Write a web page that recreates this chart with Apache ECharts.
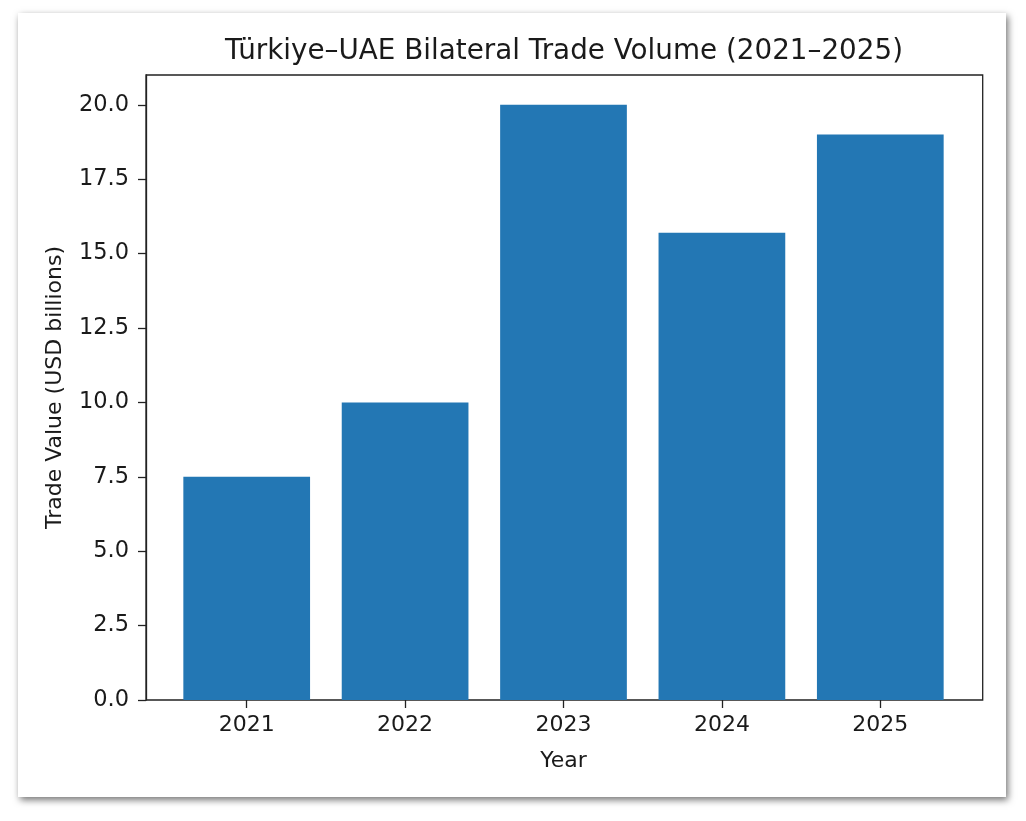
<!DOCTYPE html>
<html>
<head>
<meta charset="utf-8">
<script src="https://cdn.jsdelivr.net/npm/echarts@6/dist/echarts.min.js"></script>
<style>
html,body{margin:0;padding:0;background:#fff;}
#chart{width:1026px;height:821px;}
</style>
</head>
<body>
<div id="chart"></div>
<script>
const titleText = 'Türkiye–UAE Bilateral Trade Volume (2021–2025)';
const years = ['2021', '2022', '2023', '2024', '2025'];
const tradeValues = [7.5, 10.0, 20.0, 15.7, 19.0];
const yTicks = [0, 2.5, 5, 7.5, 10, 12.5, 15, 17.5, 20];
const xAxisName = 'Year';
const yAxisName = 'Trade Value (USD billions)';

const FONT = 'DejaVu Sans';
const TXT = '#1a1a1a';
const chart = echarts.init(document.getElementById('chart'), null, {renderer: 'canvas'});

const plotLeft = 146, plotRight = 982.7, plotTop = 75, plotBottom = 700;
const band = 158.4;
const innerLeft = 246.7 - band / 2;

chart.setOption({
  animation: false,
  backgroundColor: '#ffffff',
  graphic: [{
    type: 'rect', z: -10, silent: true,
    shape: {x: 18, y: 13, width: 988, height: 784},
    style: {fill: '#ffffff', shadowBlur: 7, shadowColor: 'rgba(0,0,0,0.55)', shadowOffsetX: 2, shadowOffsetY: 3}
  }],
  title: {
    text: titleText,
    left: 559,
    top: 33,
    textAlign: 'center',
    textStyle: {fontFamily: FONT, fontSize: 27.8, fontWeight: 'normal', color: TXT}
  },
  grid: [
    {left: plotLeft, top: plotTop, width: plotRight - plotLeft, height: plotBottom - plotTop,
     show: true, borderColor: '#222', borderWidth: 1.3, backgroundColor: 'transparent', containLabel: false},
    {left: innerLeft, top: plotTop, width: band * 5, height: plotBottom - plotTop, containLabel: false}
  ],
  xAxis: [
    {type: 'value', gridIndex: 0, min: 0, max: 1, show: false},
    {type: 'category', gridIndex: 1, data: years,
     axisLine: {show: false},
     axisTick: {show: true, alignWithLabel: true, length: 8, lineStyle: {color: '#222', width: 1.3}},
     axisLabel: {margin: 14, fontFamily: FONT, fontSize: 22, color: TXT},
     splitLine: {show: false},
     name: xAxisName, nameLocation: 'middle', nameGap: 50,
     nameTextStyle: {fontFamily: FONT, fontSize: 22, color: TXT}}
  ],
  yAxis: [
    {type: 'value', gridIndex: 0, min: 0, max: 21,
     axisLine: {show: true, lineStyle: {color: '#222', width: 1.3}},
     axisTick: {show: true, length: 8, customValues: yTicks, lineStyle: {color: '#222', width: 1.3}},
     axisLabel: {margin: 17, customValues: yTicks, fontFamily: FONT, fontSize: 22.5, color: TXT,
       formatter: v => v.toFixed(1)},
     splitLine: {show: false},
     name: yAxisName, nameLocation: 'middle', nameGap: 80,
     nameTextStyle: {fontFamily: FONT, fontSize: 22, color: TXT}},
    {type: 'value', gridIndex: 1, min: 0, max: 21, show: false}
  ],
  series: [{
    type: 'bar', xAxisIndex: 1, yAxisIndex: 1,
    data: tradeValues, barWidth: '80%',
    itemStyle: {color: '#2377b4'}
  }]
});
</script>
</body>
</html>
